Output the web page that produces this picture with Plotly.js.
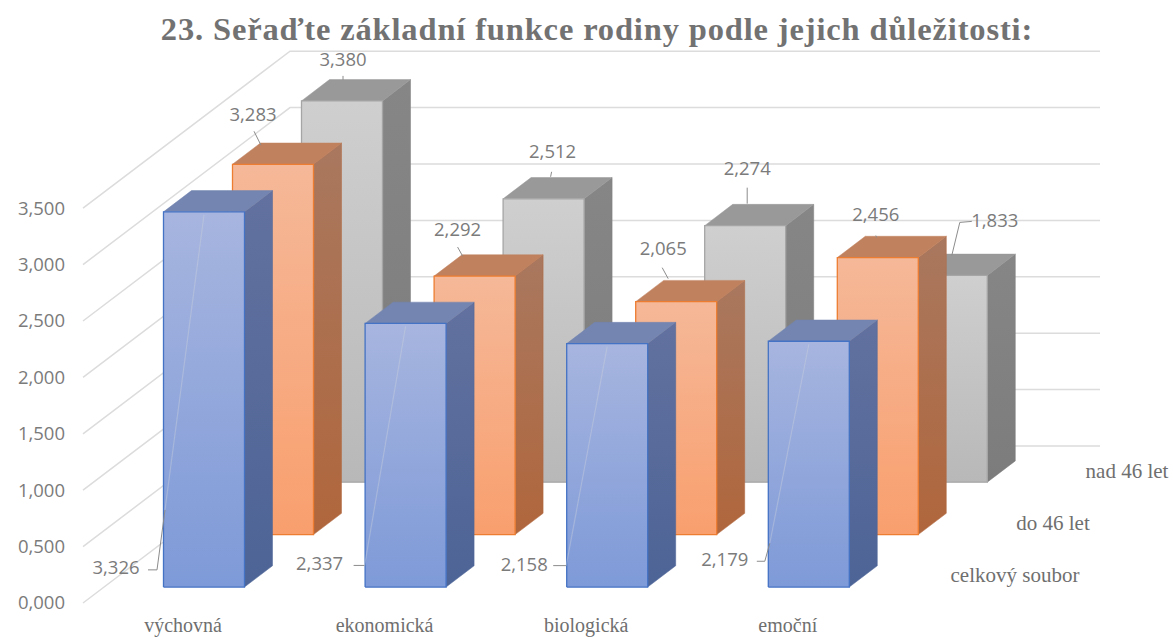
<!DOCTYPE html>
<html><head><meta charset="utf-8">
<script src="https://cdn.plot.ly/plotly-3.0.1.min.js"></script>
<style>html,body{margin:0;padding:0;background:#fff}#c{width:1173px;height:637px}.gtitle{letter-spacing:.85px}</style>
</head><body><div id="c"></div>
<script>
const categories = ["výchovná","ekonomická","biologická","emoční"];
const seriesNames = ["celkový soubor","do 46 let","nad 46 let"];
const celkovy = [3.326,2.337,2.158,2.179];
const do46 = [3.283,2.292,2.065,2.456];
const nad46 = [3.380,2.512,2.274,1.833];
const seriesValues = [celkovy,do46,nad46];
const yTicks = [0,0.5,1,1.5,2,2.5,3,3.5];

// oblique projection geometry (pixels)
const W=1173,H=637,X0=183,XSTEP=201.6,Y0=603,YSCALE=112.8,SER=69,SLANT=0.76,BARW=81,BARD=28,GAP=21,WALLEND=1100;
const ML=66,MB=26;
const xd=px=>(px-X0)/XSTEP, yd=py=>(Y0-py)/YSCALE;
const styles=[
 {front:['#7e9ad8','#a7b5df'],side:['#4d6496','#62719f'],top:'#7385b0',line:'#4472c4'},
 {front:['#f99f6e','#f5b898'],side:['#b0663c','#a9785f'],top:'#c0815e',line:'#ed7d31'},
 {front:['#b8b8b8','#cfcfcf'],side:['#7c7c7c','#868686'],top:'#999999',line:'#a5a5a5'}
];
// label centre and leader points, offset in px from the bar's front-top centre
const labelOff=[
 [[-88,358],[-86,242],[-83,223],[-84,220]],
 [[-20,-48],[-17,-45],[-13,-51],[-2,-41]],
 [[1,-40],[9,-45],[2,-55],[48,-53]]
];
const leaders=[
 [[[-56,358],[-47,358],[-39,298]],[[-52,242],[-41,242]],[[-54,222],[-41,222]],[[-52,220],[-44,220],[-39,202]]],
 [[[-19,-33],[-12,-19]],[[-17,-29],[-12,-20]],[[-14,-34],[-8,-23]],[[-2,-22],[-1,-20]]],
 [[[1,-25],[1,-21]],[[8,-27],[7,-22]],[[2,-38],[2,-22]],[[25,-54],[13,-53],[5,-20]]]
];
const fmt=v=>v.toFixed(3).replace('.',',');
const traces=[];
function poly(pts,fill,lineColor,lw,grad){
  const t={type:'scatter',mode:'lines',x:pts.map(p=>xd(p[0])),y:pts.map(p=>p[1]),fill:'toself',
    line:{color:lineColor,width:lw},hoverinfo:'skip',showlegend:false};
  if(grad){t.fillgradient={type:'vertical',colorscale:[[0,grad[0]],[1,grad[1]]]};}
  else t.fillcolor=fill;
  return t;
}
// walls
yTicks.forEach(v=>{
  traces.push({type:'scatter',mode:'lines',
    x:[xd(83),xd(83+207),xd(WALLEND)],
    y:[v,v+yd(Y0-157),v+yd(Y0-157)],
    line:{color:'#dcdcdc',width:1.5},hoverinfo:'skip',showlegend:false});
});
const dy=d=>d*SLANT/YSCALE;
// bars, back to front
for(let s=2;s>=0;s--){
  const st=styles[s];
  seriesValues[s].forEach((v,c)=>{
    const left=X0+XSTEP*c+SER*s+GAP-BARW/2;
    const right=left+BARW;
    const b=dy(SER*s+GAP), t=b+v;
    const dp=BARD, dv=dy(BARD);
    traces.push(poly([[right,b],[right+dp,b+dv],[right+dp,t+dv],[right,t],[right,b]],null,st.side[0],0.5,st.side));
    traces.push(poly([[left,t],[right,t],[right+dp,t+dv],[left+dp,t+dv],[left,t]],st.top,st.top,0.5));
    traces.push(poly([[left,b],[right,b],[right,t],[left,t],[left,b]],null,st.line,1.3,st.front));
  });
  seriesValues[s].forEach((v,c)=>{
    const ax=X0+XSTEP*c+SER*s+GAP, ay=Y0-(dy(SER*s+GAP)+v)*YSCALE;
    const pts=leaders[s][c];
    traces.push({type:'scatter',mode:'lines',
      x:pts.map(p=>xd(ax+p[0])),y:pts.map(p=>yd(ay+p[1])),
      line:{color:'#8c8c8c',width:1},hoverinfo:'skip',showlegend:false});
    if(s===0){
      const last=pts[pts.length-1];
      traces.push({type:'scatter',mode:'lines',
        x:[xd(ax+last[0]),xd(ax)],y:[yd(ay+last[1]),yd(ay+3)],
        line:{color:'rgba(205,210,220,0.4)',width:1.2},hoverinfo:'skip',showlegend:false});
    }
  });
}
// data labels
seriesValues.forEach((vals,s)=>{
  traces.push({type:'scatter',mode:'text',
    x:vals.map((v,c)=>xd(X0+XSTEP*c+SER*s+GAP+labelOff[s][c][0])),
    y:vals.map((v,c)=>dy(SER*s+GAP)+v-labelOff[s][c][1]/YSCALE),
    text:vals.map(fmt),textposition:'middle center',
    textfont:{family:'"Open Sans",sans-serif',size:18.5,color:'#7b7b7b'},
    hoverinfo:'skip',showlegend:false,cliponaxis:false});
});
// depth axis labels
const depthPos=[[1015,577],[1053,525],[1127,473]];
traces.push({type:'scatter',mode:'text',
  x:depthPos.map(p=>xd(p[0])),y:depthPos.map(p=>yd(p[1])),text:seriesNames,textposition:'middle center',
  textfont:{family:'"Liberation Serif",serif',size:21,color:'#6f6f6f'},hoverinfo:'skip',showlegend:false,cliponaxis:false});

const layout={
  width:W,height:H,margin:{l:ML,r:0,t:0,b:MB,pad:0},paper_bgcolor:'#fff',plot_bgcolor:'#fff',separators:',.',
  title:{text:"23. Seřaďte základní funkce rodiny podle jejich důležitosti:",x:597/W,xanchor:'center',xref:'container',y:1-29/H,yanchor:'middle',yref:'container',
    font:{family:'"Liberation Serif",serif',size:32.5,color:'#727272',weight:700},automargin:false},
  xaxis:{range:[xd(ML),xd(W)],tickmode:'array',tickvals:[0,1,2,3],ticktext:categories,showgrid:false,zeroline:false,showline:false,ticklen:0,
    tickfont:{family:'"Liberation Serif",serif',size:20,color:'#6f6f6f'},fixedrange:true},
  yaxis:{range:[yd(H-MB),yd(0)],tickmode:'array',tickvals:yTicks,tickformat:'.3f',showgrid:false,zeroline:false,showline:false,ticklen:0,
    tickfont:{family:'"Open Sans",sans-serif',size:18.5,color:'#7b7b7b'},fixedrange:true},
  showlegend:false
};
Plotly.newPlot('c',traces,layout,{displayModeBar:false,staticPlot:true});
</script></body></html>
